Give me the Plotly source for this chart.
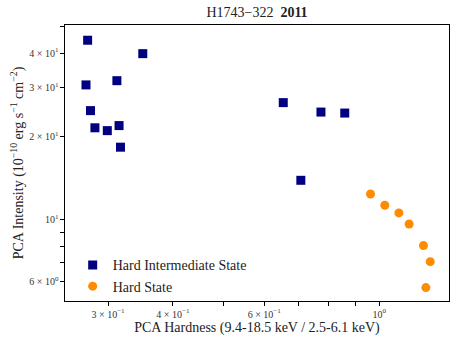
import plotly.graph_objects as go
import numpy as np

# Hard Intermediate State
him_hardness = [0.274, 0.350, 0.272, 0.312, 0.2775, 0.283, 0.299, 0.315, 0.317, 0.653, 0.772, 0.858, 0.706]
him_intensity = [44.5, 39.8, 30.7, 31.8, 24.8, 21.5, 21.0, 21.9, 18.3, 26.5, 24.5, 24.3, 13.9]

# Hard State
hs_hardness = [0.962, 1.025, 1.091, 1.142, 1.217, 1.254, 1.230]
hs_intensity = [12.4, 11.3, 10.6, 9.67, 8.08, 7.07, 5.70]

x_tickvals = [0.3, 0.4, 0.5, 0.6, 0.7, 0.8, 0.9, 1.0]
x_ticktext = ["3 × 10<sup>−1</sup>", "4 × 10<sup>−1</sup>", "", "6 × 10<sup>−1</sup>", "", "", "", "10<sup>0</sup>"]
y_tickvals = [5, 6, 7, 8, 9, 10, 20, 30, 40, 50]
y_ticktext = ["", "6 × 10<sup>0</sup>", "", "", "", "10<sup>1</sup>", "2 × 10<sup>1</sup>", "3 × 10<sup>1</sup>", "4 × 10<sup>1</sup>", ""]

font_family = "Liberation Serif"

fig = go.Figure()
fig.add_trace(go.Scatter(
    x=him_hardness, y=him_intensity,
    mode="markers", name="Hard Intermediate State",
    marker=dict(symbol="square", size=9, color="#000080"),
))
fig.add_trace(go.Scatter(
    x=hs_hardness, y=hs_intensity,
    mode="markers", name="Hard State",
    marker=dict(symbol="circle", size=9, color="#FF8C00"),
))

axis_common = dict(
    type="log", showgrid=False, zeroline=False, automargin=False,
    showline=True, linecolor="black", linewidth=1.2, mirror=True,
    ticks="outside", ticklen=3.5, tickwidth=1, tickcolor="black",
    tickfont=dict(family=font_family, size=10, color="#333"),
)

fig.update_layout(
    width=463, height=347,
    margin=dict(l=65, r=14, t=25, b=46),
    paper_bgcolor="white", plot_bgcolor="white",
    font=dict(family=font_family, color="#222"),
    title=dict(text="H1743−322  <b>2011</b>", x=0.5, xref="paper", y=0.965, yanchor="middle",
               font=dict(family=font_family, size=14, color="#222")),
    xaxis=dict(axis_common, range=[np.log10(0.2478), np.log10(1.363)],
               tickvals=x_tickvals, ticktext=x_ticktext,
               title=dict(text="PCA Hardness (9.4-18.5 keV / 2.5-6.1 keV)", standoff=2,
                          font=dict(family=font_family, size=14))),
    yaxis=dict(axis_common, range=[np.log10(5.1), np.log10(50.5)],
               tickvals=y_tickvals, ticktext=y_ticktext,
               title=dict(text="PCA Intensity (10<sup>−10</sup> erg s<sup>−1</sup> cm<sup>−2</sup>)", standoff=2,
                          font=dict(family=font_family, size=14))),
    legend=dict(x=0.02, y=-0.005, xanchor="left", yanchor="bottom",
                bgcolor="rgba(0,0,0,0)", font=dict(family=font_family, size=14),
                itemwidth=30, tracegroupgap=0),
    showlegend=True,
)

# page body has a default 8px margin; remove it so the figure sits at the corner
fig.write_html("out.html", config=dict(displayModeBar=False),
               post_script="document.body.style.margin='0';")
